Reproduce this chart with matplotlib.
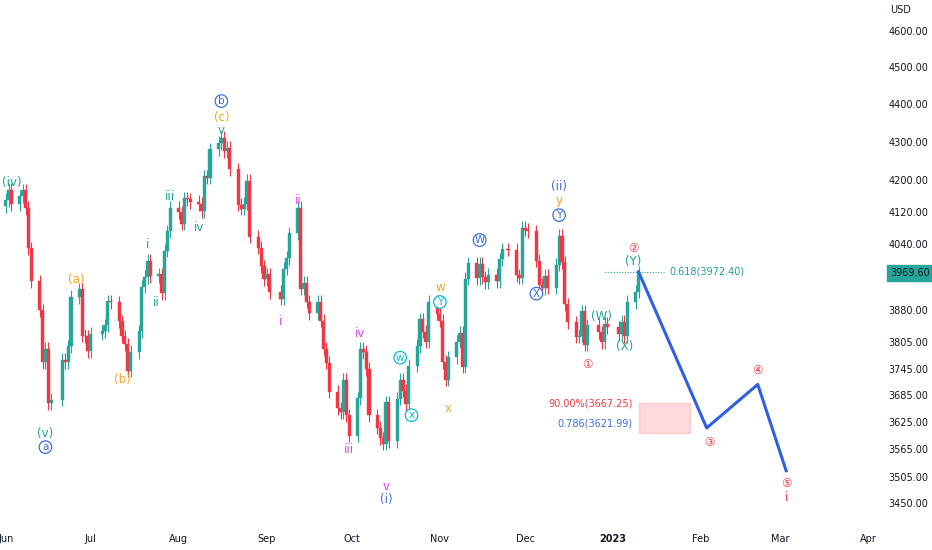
import numpy as np
import pandas as pd
import matplotlib
matplotlib.use('Agg')
import matplotlib.pyplot as plt
from matplotlib.patches import Rectangle

# daily closes, Jun 2022 - Jan 2023
dates = pd.to_datetime([
    '2022-06-01', '2022-06-02', '2022-06-03', '2022-06-06', '2022-06-07', '2022-06-08', '2022-06-09', '2022-06-10',
    '2022-06-13', '2022-06-14', '2022-06-15', '2022-06-16', '2022-06-17', '2022-06-21', '2022-06-22', '2022-06-23',
    '2022-06-24', '2022-06-27', '2022-06-28', '2022-06-29', '2022-06-30',
    '2022-07-01', '2022-07-05', '2022-07-06', '2022-07-07', '2022-07-08', '2022-07-11', '2022-07-12', '2022-07-13',
    '2022-07-14', '2022-07-15', '2022-07-18', '2022-07-19', '2022-07-20', '2022-07-21', '2022-07-22', '2022-07-25',
    '2022-07-26', '2022-07-27', '2022-07-28', '2022-07-29',
    '2022-08-01', '2022-08-02', '2022-08-03', '2022-08-04', '2022-08-05', '2022-08-08', '2022-08-09', '2022-08-10',
    '2022-08-11', '2022-08-12', '2022-08-15', '2022-08-16', '2022-08-17', '2022-08-18', '2022-08-19', '2022-08-22',
    '2022-08-23', '2022-08-24', '2022-08-25', '2022-08-26', '2022-08-29', '2022-08-30', '2022-08-31',
    '2022-09-01', '2022-09-02', '2022-09-06', '2022-09-07', '2022-09-08', '2022-09-09', '2022-09-12', '2022-09-13',
    '2022-09-14', '2022-09-15', '2022-09-16', '2022-09-19', '2022-09-20', '2022-09-21', '2022-09-22', '2022-09-23',
    '2022-09-26', '2022-09-27', '2022-09-28', '2022-09-29', '2022-09-30',
    '2022-10-03', '2022-10-04', '2022-10-05', '2022-10-06', '2022-10-07', '2022-10-10', '2022-10-11', '2022-10-12',
    '2022-10-13', '2022-10-14', '2022-10-17', '2022-10-18', '2022-10-19', '2022-10-20', '2022-10-21', '2022-10-24',
    '2022-10-25', '2022-10-26', '2022-10-27', '2022-10-28', '2022-10-31',
    '2022-11-01', '2022-11-02', '2022-11-03', '2022-11-04', '2022-11-07', '2022-11-08', '2022-11-09', '2022-11-10',
    '2022-11-11', '2022-11-14', '2022-11-15', '2022-11-16', '2022-11-17', '2022-11-18', '2022-11-21', '2022-11-22',
    '2022-11-23', '2022-11-25', '2022-11-28', '2022-11-29', '2022-11-30',
    '2022-12-01', '2022-12-02', '2022-12-05', '2022-12-06', '2022-12-07', '2022-12-08', '2022-12-09', '2022-12-12',
    '2022-12-13', '2022-12-14', '2022-12-15', '2022-12-16', '2022-12-19', '2022-12-20', '2022-12-21', '2022-12-22',
    '2022-12-23', '2022-12-27', '2022-12-28', '2022-12-29', '2022-12-30',
    '2023-01-03', '2023-01-04', '2023-01-05', '2023-01-06', '2023-01-09', '2023-01-10',
])
closes = [
    4150, 4176, 4140, 4160, 4175, 4130, 4030, 3950,
    3880, 3760, 3790, 3667, 3675, 3765, 3760, 3796,
    3912, 3930, 3821, 3819, 3785,
    3825, 3831, 3845, 3902, 3899, 3854, 3819, 3801,
    3740, 3783, 3831, 3937, 3960, 3999, 3962, 3967,
    3921, 4024, 4072, 4130,
    4119, 4091, 4155, 4152, 4145, 4140, 4122, 4210,
    4207, 4280, 4297, 4310, 4275, 4284, 4228, 4138,
    4128, 4141, 4199, 4058, 4031, 3986, 3955,
    3967, 3924, 3908, 3980, 4006, 4067, 4130, 3932,
    3946, 3901, 3873, 3900, 3856, 3790, 3758, 3693,
    3655, 3647, 3719, 3640, 3595,
    3678, 3791, 3783, 3744, 3640, 3612, 3589, 3577,
    3669, 3583, 3677, 3720, 3695, 3665, 3752, 3797,
    3859, 3830, 3807, 3901, 3872,
    3856, 3760, 3720, 3771, 3807, 3828, 3749, 3956,
    3993, 3957, 3992, 3959, 3947, 3965, 3950, 4003,
    4027, 4026, 3964, 3958, 4080,
    4076, 4072, 3999, 3941, 3933, 3963, 3934, 3990,
    4060, 3996, 3895, 3852, 3818, 3821, 3878, 3800,
    3845, 3829, 3805, 3849, 3840,
    3824, 3853, 3820, 3900, 3925, 3969.6,
]

# wave projection
proj_dates = pd.to_datetime(['2023-01-10', '2023-02-03', '2023-02-21', '2023-03-03'])
proj_prices = [3972.4, 3612, 3709, 3519]

y_ticks = [3450, 3505, 3565, 3625, 3685, 3745, 3805, 3880, 4040, 4120, 4200, 4300, 4400, 4500, 4600]
x_ticks = ['2022-06-01', '2022-07-01', '2022-08-01', '2022-09-01', '2022-10-01', '2022-11-01',
           '2022-12-01', '2023-01-01', '2023-02-01', '2023-03-01', '2023-04-01']
x_tick_labels = ['Jun', 'Jul', 'Aug', 'Sep', 'Oct', 'Nov', 'Dec', '2023', 'Feb', 'Mar', 'Apr']

# wave labels: date, price, text, colour, circled
waves = [
    ('2022-06-03', 4195, '(iv)', '#22a08e', False),
    ('2022-06-15', 3600, '(v)', '#22a08e', False),
    ('2022-06-15', 3570, 'a', '#3b6fe0', True),
    ('2022-06-26', 3955, '(a)', '#f5a623', False),
    ('2022-07-12', 3720, '(b)', '#f5a623', False),
    ('2022-07-21', 4040, 'i', '#22a08e', False),
    ('2022-07-24', 3900, 'ii', '#22a08e', False),
    ('2022-07-29', 4160, 'iii', '#22a08e', False),
    ('2022-08-08', 4080, 'iv', '#22a08e', False),
    ('2022-08-16', 4330, 'v', '#22a08e', False),
    ('2022-08-16', 4363, '(c)', '#f5a623', False),
    ('2022-08-16', 4408, 'b', '#3b6fe0', True),
    ('2022-09-12', 4150, 'ii', '#e040fb', False),
    ('2022-09-06', 3855, 'i', '#e040fb', False),
    ('2022-10-04', 3825, 'iv', '#e040fb', False),
    ('2022-09-30', 3565, 'iii', '#e040fb', False),
    ('2022-10-13', 3485, 'v', '#e040fb', False),
    ('2022-10-13', 3458, '(i)', '#3b6fe0', False),
    ('2022-10-18', 3770, 'w', '#00bcd4', True),
    ('2022-10-22', 3640, 'x', '#00bcd4', True),
    ('2022-11-01', 3935, 'w', '#f5a623', False),
    ('2022-11-01', 3900, 'Y', '#00bcd4', True),
    ('2022-11-04', 3655, 'x', '#f5a623', False),
    ('2022-11-15', 4050, 'W', '#3b6fe0', True),
    ('2022-12-05', 3920, 'X', '#3b6fe0', True),
    ('2022-12-13', 4185, '(ii)', '#3b6fe0', False),
    ('2022-12-13', 4150, 'y', '#f5a623', False),
    ('2022-12-13', 4112, 'Y', '#3b6fe0', True),
    ('2022-12-23', 3755, '\u2460', '#f23645', False),
    ('2022-12-28', 3865, '(W)', '#22a08e', False),
    ('2023-01-05', 3795, '(X)', '#22a08e', False),
    ('2023-01-08', 4030, '\u2461', '#f23645', False),
    ('2023-01-08', 3998, '(Y)', '#22a08e', False),
    ('2023-02-04', 3580, '\u2462', '#f23645', False),
    ('2023-02-21', 3740, '\u2463', '#f23645', False),
    ('2023-03-03', 3492, '\u2464', '#f23645', False),
    ('2023-03-03', 3462, 'i', '#f23645', False),
]

up_col = '#26a69a'
dn_col = '#f23645'

x = dates.map(pd.Timestamp.toordinal).to_numpy(dtype=float)
c = np.array(closes, dtype=float)
o = np.r_[c[0] - 15, c[:-1]]
h = np.maximum(o, c) * 1.004
l = np.minimum(o, c) * 0.996

fig = plt.figure(figsize=(9.32, 5.5), dpi=100)
ax = fig.add_axes([0.0, 0.045, 0.944, 0.955])
ax.set_yscale('log')

for xi, oi, ci, hi, li in zip(x, o, c, h, l):
    col = up_col if ci >= oi else dn_col
    ax.vlines(xi, li, hi, color=col, lw=0.8, zorder=2)
    ax.add_patch(Rectangle((xi - 0.55, min(oi, ci)), 1.1, max(abs(ci - oi), 1.5),
                           facecolor=col, edgecolor=col, lw=0.3, zorder=3))

px = proj_dates.map(pd.Timestamp.toordinal).to_numpy(dtype=float)
ax.plot(px, proj_prices, color='#2f5ee8', lw=2.2, zorder=4)

# target box
bx0 = pd.Timestamp('2023-01-10').toordinal()
bx1 = pd.Timestamp('2023-01-28').toordinal()
ax.add_patch(Rectangle((bx0, 3600), bx1 - bx0, 3667.25 - 3600, facecolor='#f23645', alpha=0.18,
                       edgecolor='#f23645', lw=1, zorder=1))
ax.text(bx0 - 2, 3667.25, '90.00%(3667.25)', color='#f23645', fontsize=7, ha='right', va='center')
ax.text(bx0 - 2, 3621.99, '0.786(3621.99)', color='#3b6fe0', fontsize=7, ha='right', va='center')

# fib line
fx0 = pd.Timestamp('2022-12-29').toordinal()
fx1 = pd.Timestamp('2023-01-19').toordinal()
ax.plot([fx0, fx1], [3972.4, 3972.4], color='#22a08e', lw=0.8, ls=(0, (1, 1.5)))
ax.text(fx1 + 2, 3972.4, '0.618(3972.40)', color='#22a08e', fontsize=7, va='center')

for d, p, t, col, circ in waves:
    xd = pd.Timestamp(d).toordinal()
    if circ:
        ax.text(xd, p, t, color=col, fontsize=7.5, ha='center', va='center', zorder=5,
                bbox=dict(boxstyle='circle,pad=0.12', fc='white', ec=col, lw=0.9))
    else:
        ax.text(xd, p, t, color=col, fontsize=8.5, ha='center', va='center', zorder=5)

ax.set_xlim(pd.Timestamp('2022-05-30').toordinal(), pd.Timestamp('2023-04-05').toordinal())
ax.set_ylim(3404, 4688)

ax.yaxis.tick_right()
ax.set_yticks(y_ticks)
ax.set_yticklabels([f'{v:.2f}' for v in y_ticks])
ax.minorticks_off()
ax.set_xticks([pd.Timestamp(t).toordinal() for t in x_ticks])
ax.set_xticklabels(x_tick_labels)
for lab in ax.get_xticklabels():
    lab.set_fontweight('bold' if lab.get_text() == '2023' else 'normal')
ax.tick_params(axis='both', length=0, labelsize=7, colors='#131722', pad=6)
for s in ax.spines.values():
    s.set_visible(False)

ax.text(1.012, 0.981, 'USD', transform=ax.transAxes, fontsize=7, color='#131722', va='center')
ax.text(1.012, 3969.6, '3969.60', transform=ax.get_yaxis_transform(), fontsize=7, color='#131722',
        va='center', bbox=dict(boxstyle='square,pad=0.35', fc='#26a69a', ec='#26a69a'))

fig.savefig('out.png', dpi=100)
